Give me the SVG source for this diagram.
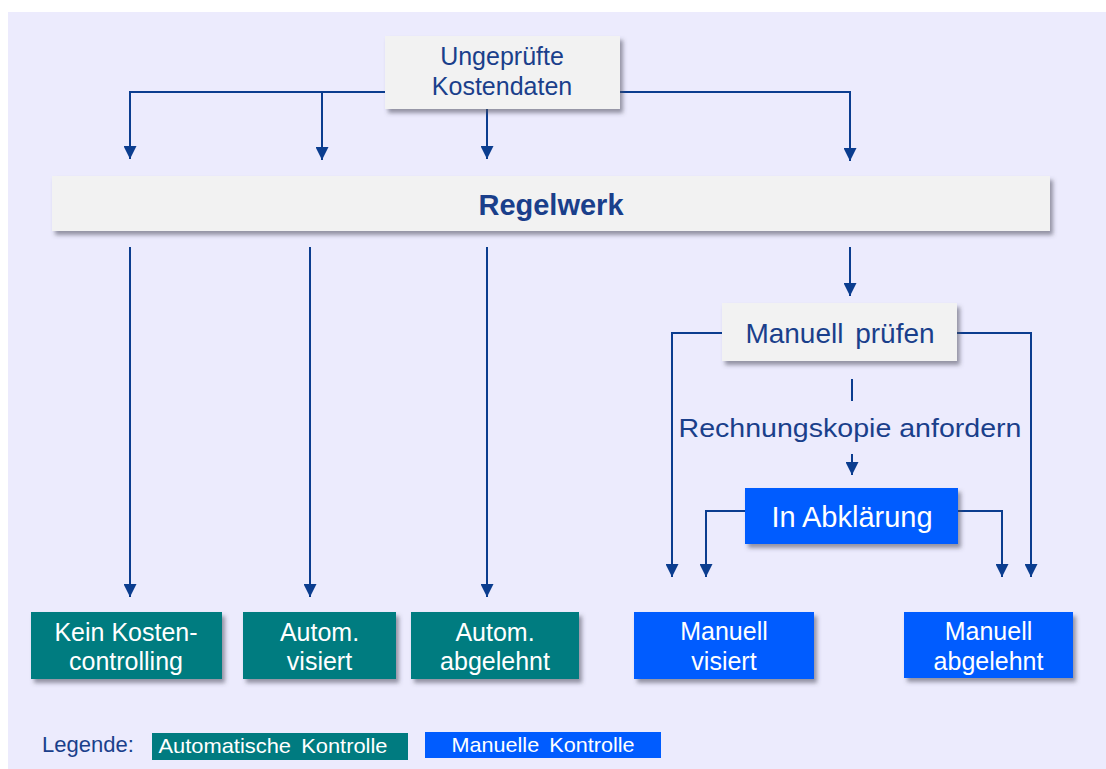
<svg xmlns="http://www.w3.org/2000/svg" width="1106" height="769" viewBox="0 0 1106 769">
<defs>
<style>
.bg{fill:#ecebfd}
.gray{fill:#f2f2f2}
.teal{fill:#007b80}
.blue{fill:#005cff}
.t{font-family:"Liberation Sans",Arial,sans-serif;text-anchor:middle}
.dark{fill:#1a3f8b}
.white{fill:#ffffff}
.con{fill:none;stroke:#0b3d8f;stroke-width:2}
</style>
<filter id="sh" x="-10%" y="-20%" width="125%" height="160%">
<feDropShadow dx="3" dy="4" stdDeviation="2" flood-color="#4a4a5a" flood-opacity="0.55"/>
</filter>
<marker id="ar" markerUnits="userSpaceOnUse" markerWidth="13" markerHeight="13" viewBox="0 0 12 12" refX="12" refY="6" orient="auto">
<path d="M0,0 L12,6 L0,12 z" fill="#0b3d8f"/>
</marker>
</defs>
<rect class="bg" x="8" y="12" width="1098" height="757"/>

<g id="connectors">
<path class="con" d="M385,92 H130 V159" marker-end="url(#ar)"/>
<path class="con" d="M322,92 V160" marker-end="url(#ar)"/>
<path class="con" d="M487,109 V159" marker-end="url(#ar)"/>
<path class="con" d="M620,92 H850 V161" marker-end="url(#ar)"/>
<path class="con" d="M130,247 V597" marker-end="url(#ar)"/>
<path class="con" d="M310,247 V597" marker-end="url(#ar)"/>
<path class="con" d="M487,247 V597" marker-end="url(#ar)"/>
<path class="con" d="M850,247 V296" marker-end="url(#ar)"/>
<path class="con" d="M722,333 H672 V577" marker-end="url(#ar)"/>
<path class="con" d="M957,333 H1031 V577" marker-end="url(#ar)"/>
<path class="con" d="M852,379 V401"/>
<path class="con" d="M852,454 V475" marker-end="url(#ar)"/>
<path class="con" d="M745,511 H706 V577" marker-end="url(#ar)"/>
<path class="con" d="M958,511 H1002 V577" marker-end="url(#ar)"/>
</g>

<g id="n-ungepruefte">
<rect class="gray" x="385" y="36" width="235" height="73" filter="url(#sh)"/>
<text class="t dark" x="502" y="65" font-size="25">Ungeprüfte</text>
<text class="t dark" x="502" y="95" font-size="25">Kostendaten</text>
</g>

<g id="n-regelwerk">
<rect class="gray" x="52" y="176" width="998" height="55" filter="url(#sh)"/>
<text class="t dark" x="551" y="215" font-size="29" font-weight="bold">Regelwerk</text>
</g>

<g id="n-manuell-pruefen">
<rect class="gray" x="722" y="303" width="235" height="58" filter="url(#sh)"/>
<text class="t dark" x="840" y="343" font-size="28" word-spacing="4">Manuell prüfen</text>
</g>

<g id="l-rechnungskopie">
<text class="t dark" x="850" y="437" font-size="26" textLength="343" lengthAdjust="spacingAndGlyphs">Rechnungskopie anfordern</text>
</g>

<g id="n-abklaerung">
<rect class="blue" x="745" y="488" width="213" height="56" filter="url(#sh)"/>
<text class="t white" x="852" y="527" font-size="29">In Abklärung</text>
</g>

<g id="n-kein">
<rect class="teal" x="31" y="612" width="191" height="67" filter="url(#sh)"/>
<text class="t white" x="126" y="641" font-size="25">Kein Kosten-</text>
<text class="t white" x="126" y="670" font-size="25">controlling</text>
</g>

<g id="n-autom-visiert">
<rect class="teal" x="243" y="612" width="153" height="67" filter="url(#sh)"/>
<text class="t white" x="319.5" y="641" font-size="25">Autom.</text>
<text class="t white" x="319.5" y="670" font-size="25">visiert</text>
</g>

<g id="n-autom-abgelehnt">
<rect class="teal" x="411" y="612" width="168" height="67" filter="url(#sh)"/>
<text class="t white" x="495" y="641" font-size="25">Autom.</text>
<text class="t white" x="495" y="670" font-size="25">abgelehnt</text>
</g>

<g id="n-manuell-visiert">
<rect class="blue" x="634" y="612" width="180" height="67" filter="url(#sh)"/>
<text class="t white" x="724" y="640" font-size="25">Manuell</text>
<text class="t white" x="724" y="670" font-size="25">visiert</text>
</g>

<g id="n-manuell-abgelehnt">
<rect class="blue" x="904" y="612" width="169" height="66" filter="url(#sh)"/>
<text class="t white" x="988.5" y="640" font-size="25">Manuell</text>
<text class="t white" x="988.5" y="670" font-size="25">abgelehnt</text>
</g>

<g id="legend">
<text x="42" y="752" font-family="Liberation Sans, Arial, sans-serif" font-size="22" fill="#1a3f8b">Legende:</text>
<rect class="teal" x="152" y="733" width="256" height="27"/>
<text class="t white" x="273" y="753" font-size="21" textLength="229" lengthAdjust="spacingAndGlyphs" word-spacing="4">Automatische Kontrolle</text>
<rect class="blue" x="425" y="732" width="236" height="26"/>
<text class="t white" x="543" y="752" font-size="21" textLength="183" lengthAdjust="spacingAndGlyphs" word-spacing="4">Manuelle Kontrolle</text>
</g>
</svg>
